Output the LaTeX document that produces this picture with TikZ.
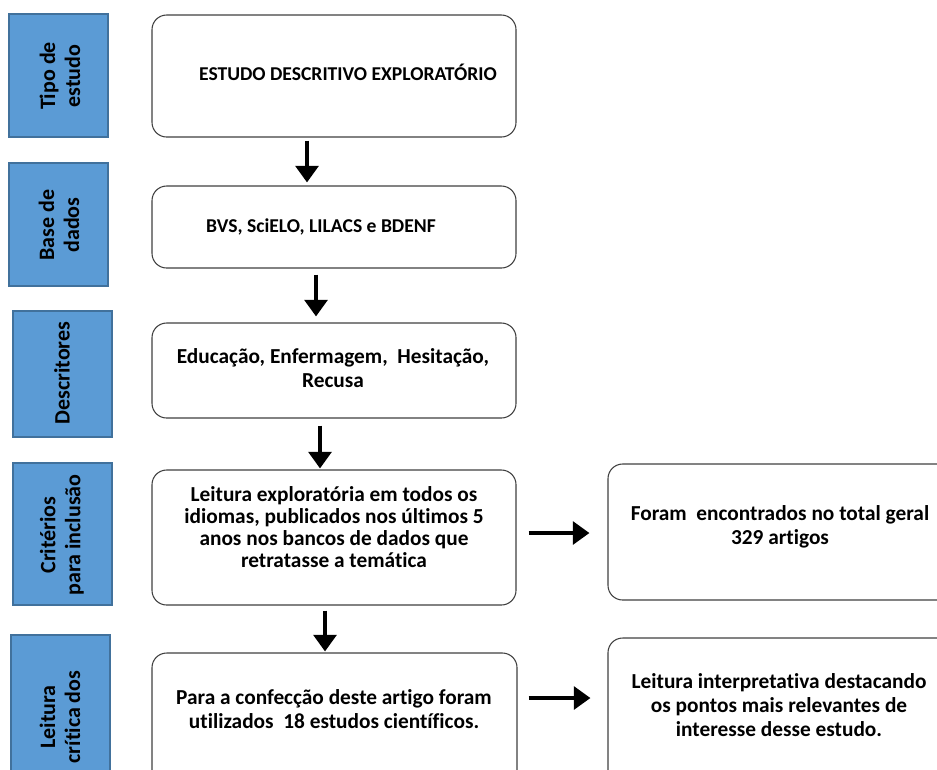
\documentclass[tikz,border=0pt]{standalone}
\usepackage{fontspec}
\setmainfont{Carlito}[Ligatures=NoCommon]
\usetikzlibrary{fit,arrows.meta}
\definecolor{bluefill}{HTML}{5B9BD5}
\definecolor{blueedge}{HTML}{41719C}
\definecolor{boxedge}{HTML}{404040}
\tikzset{
  whitebox/.style={draw=boxedge, line width=0.8pt, rounded corners=11pt, fill=white, inner sep=0pt},
  bluebox/.style={draw=blueedge, line width=1.6pt, fill=bluefill, inner sep=0pt},
  txt/.style={font=\bfseries\fontsize{16}{18}\selectfont, align=center, inner sep=0pt},
  smalltxt/.style={txt, font=\bfseries\fontsize{14.7}{18}\selectfont},
  sidetxt/.style={font=\bfseries\fontsize{16.5}{18.75}\selectfont, align=center, inner sep=0pt, rotate=90},
  bigarrow/.style={line width=3.6pt, -{Triangle[length=12.5pt,width=17pt]}}
}
\begin{document}
\begin{tikzpicture}[x=0.75pt,y=-0.75pt]
\useasboundingbox (0,0) rectangle (937,769);
\clip (0,0) rectangle (937,769);
% left blue labels
\node[bluebox, fit={(9,14) (108,137)}] (l1) {};
\node[bluebox, fit={(9,163) (108,286)}] (l2) {};
\node[bluebox, fit={(13,311) (112,437)}] (l3) {};
\node[bluebox, fit={(13,463) (112,605)}] (l4) {};
\node[bluebox, fit={(11,635) (110,800)}] (l5) {};
\node[sidetxt] (l1t) at (60,76) {Tipo de\\estudo};
\node[sidetxt] (l2t) at (59,225) {Base de\\dados};
\node[sidetxt] (l3t) at (62,373) {Descritores};
\node[sidetxt] (l4t) at (62,535) {Critérios\\para inclusão};
\node[sidetxt] (l5t) at (60,717) {Leitura\\crítica dos};
% center boxes
\node[whitebox, fit={(152,15) (516,137)}] (b1) {};
\node[whitebox, fit={(152,186) (516,268)}] (b2) {};
\node[whitebox, fit={(152,323) (516,418)}] (b3) {};
\node[whitebox, fit={(152,470) (516,605)}] (b4) {};
\node[whitebox, fit={(152,653) (517,800)}] (b5) {};
\node[smalltxt] (b1t) at (348,72) {ESTUDO DESCRITIVO EXPLORATÓRIO};
\node[smalltxt] (b2t) at (321,227) {BVS, SciELO, LILACS e BDENF};
\node[txt] (b3t) at (333,368) {Educação, Enfermagem,~ Hesitação,\\Recusa};
\node[txt, font=\bfseries\fontsize{16}{16.7}\selectfont] (b4t) at (334,527) {Leitura exploratória em todos os\\idiomas, publicados nos últimos 5\\anos nos bancos de dados que\\retratasse a temática};
\node[txt] (b5t) at (334,709) {Para a confecção deste artigo foram\\utilizados~ 18 estudos científicos.};
% right boxes
\node[whitebox, fit={(608,464) (952,600)}] (r1) {};
\node[whitebox, fit={(608,638) (952,800)}] (r2) {};
\node[txt] (r1t) at (780,527) {Foram~ encontrados no total geral\\329 artigos};
\node[txt] (r2t) at (779,705) {Leitura interpretativa destacando\\os pontos mais relevantes de\\interesse desse estudo.};
% arrows
\draw[bigarrow, shorten <=2.25pt, shorten >=2.25pt] (b1.south -| 307,0) -- (b2.north -| 307,0);
\draw[bigarrow, shorten <=4.5pt, shorten >=4.5pt] (b2.south -| 316,0) -- (b3.north -| 316,0);
\draw[bigarrow, shorten <=5.25pt, shorten >=0.75pt] (b3.south -| 320,0) -- (b4.north -| 320,0);
\draw[bigarrow, shorten <=3.75pt, shorten >=0.75pt] (b4.south -| 325,0) -- (b5.north -| 325,0);
\draw[bigarrow, shorten <=9pt, shorten >=13.5pt] (b4.east |- 0,533) -- (r1.west |- 0,533);
\draw[bigarrow, shorten <=8.25pt, shorten >=12.75pt] (b5.east |- 0,698) -- (r2.west |- 0,698);
\end{tikzpicture}
\end{document}
